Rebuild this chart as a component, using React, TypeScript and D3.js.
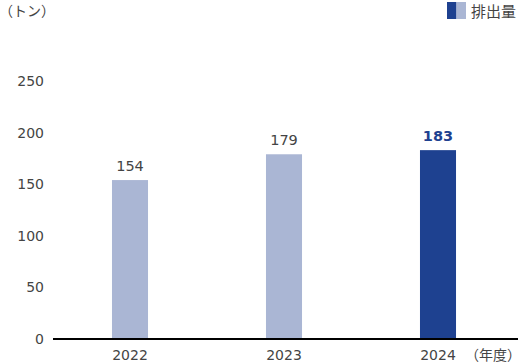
import React from "react";
import * as d3 from "d3";

const years = ["2022", "2023", "2024"];
const emissions = [154, 179, 183];
const yTicks = [0, 50, 100, 150, 200, 250];

const LIGHT = "#aab6d4";
const DARK = "#1e4190";
const TEXT = "#444";
const FONT = "'DejaVu Sans', 'Noto Sans CJK JP', sans-serif";
const JP_FONT = "'Noto Sans CJK JP', sans-serif";

const App = () => {
  const width = 524;
  const height = 364;
  const margins = { top: 81, right: 6, bottom: 25, left: 53 };

  const xScale = d3
    .scaleBand()
    .domain(years)
    .range([margins.left, 515])
    .paddingInner(0.766)
    .paddingOuter(0.383);

  const yScale = d3
    .scaleLinear()
    .domain([0, 250])
    .range([height - margins.bottom, margins.top]);

  const last = years.length - 1;

  return (
    <svg
      width={width}
      height={height}
      style={{ position: "absolute", left: 0, top: 0, fontFamily: FONT }}
    >
      {/* unit label */}
      <text x={-1} y={16} fontSize={14} fill={TEXT} fontFamily={JP_FONT}>
        （トン）
      </text>

      {/* legend */}
      <rect x={447} y={2} width={9.5} height={17} fill={DARK} />
      <rect x={456.5} y={2} width={9.5} height={17} fill={LIGHT} />
      <text x={471} y={17} fontSize={15} fill={TEXT} fontFamily={JP_FONT}>
        排出量
      </text>

      {/* y tick labels */}
      {yTicks.map((t) => (
        <text
          key={t}
          x={44}
          y={yScale(t) + 5}
          fontSize={14}
          fill={TEXT}
          textAnchor="end"
        >
          {t}
        </text>
      ))}

      {/* bars */}
      {years.map((yr, i) => (
        <rect
          key={yr}
          x={xScale(yr)}
          y={yScale(emissions[i])}
          width={xScale.bandwidth()}
          height={yScale(0) - yScale(emissions[i])}
          fill={i === last ? DARK : LIGHT}
        />
      ))}

      {/* value labels */}
      {years.map((yr, i) => (
        <text
          key={yr}
          x={(xScale(yr) ?? 0) + xScale.bandwidth() / 2}
          y={yScale(emissions[i]) - 9}
          fontSize={14.5}
          fontWeight={i === last ? "bold" : "normal"}
          fill={i === last ? DARK : TEXT}
          textAnchor="middle"
        >
          {emissions[i]}
        </text>
      ))}

      {/* x axis */}
      <line
        x1={margins.left}
        x2={518}
        y1={yScale(0)}
        y2={yScale(0)}
        stroke="#000"
        strokeWidth={2}
      />
      {years.map((yr) => (
        <text
          key={yr}
          x={(xScale(yr) ?? 0) + xScale.bandwidth() / 2}
          y={360}
          fontSize={14}
          fill={TEXT}
          textAnchor="middle"
        >
          {yr}
        </text>
      ))}
      <text
        x={521}
        y={360}
        fontSize={14}
        fill={TEXT}
        textAnchor="end"
        fontFamily={JP_FONT}
      >
        （年度）
      </text>
    </svg>
  );
};

export default App;
